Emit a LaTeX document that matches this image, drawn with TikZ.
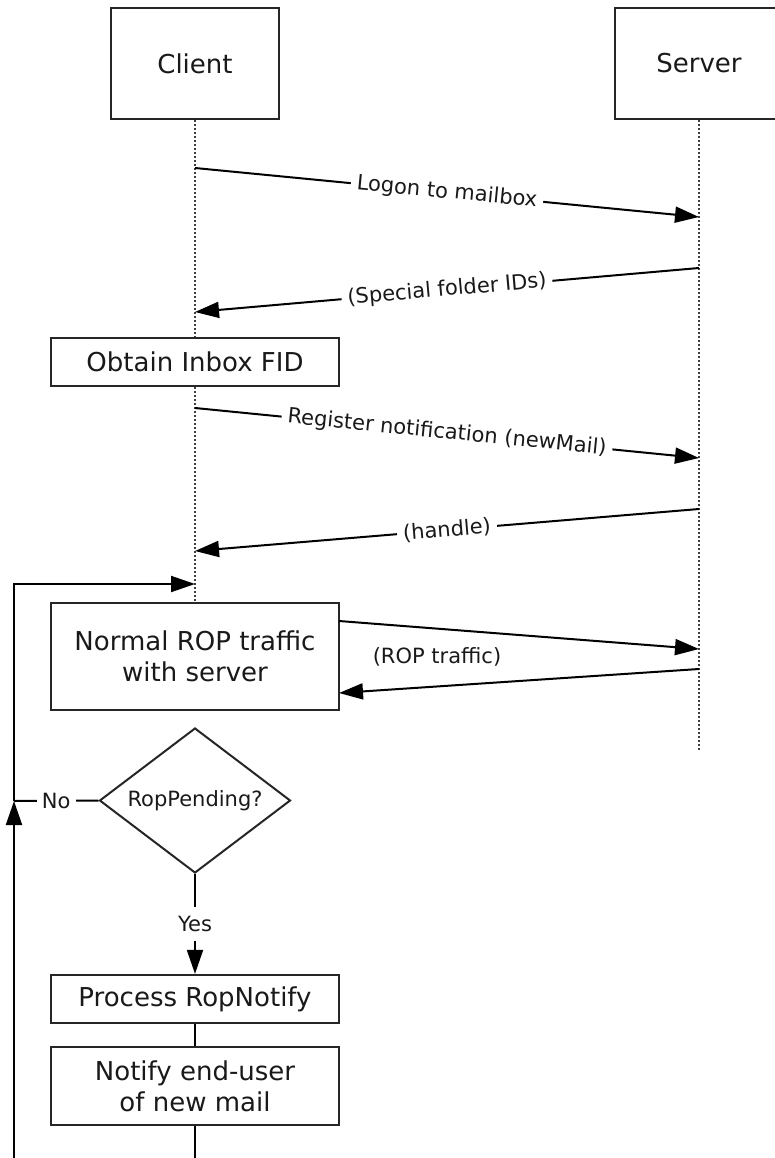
\documentclass[tikz,border=0pt]{standalone}
\usepackage{fontspec}
\setmainfont{DejaVu Sans}
\usetikzlibrary{arrows.meta,shapes.geometric}
\begin{document}
\begin{tikzpicture}[x=1pt,y=-1pt,
  box/.style={draw=black!85, line width=2.2pt, inner sep=0pt, align=center, text=black!90, font=\fontsize{26}{31}\selectfont},
  lbl/.style={text=black!90, font=\fontsize{21}{25}\selectfont},
  msglbl/.style={lbl, sloped, fill=white, inner xsep=6pt, inner ysep=2pt},
  msg/.style={line width=2pt, -{Triangle[length=24pt,width=16pt]}},
  life/.style={line width=2pt, dash pattern=on 2pt off 2pt, black!75},
  plain/.style={line width=2pt}]
\useasboundingbox (0,0) rectangle (774,1158);

% lifeline heads
\node[box, minimum width=168pt, minimum height=111pt] (client) at (195,63.5) {Client};
\node[box, minimum width=168pt, minimum height=111pt] (server) at (699,63.5) {Server};

% client activity boxes
\node[box, minimum width=288pt, minimum height=48pt] (obtain) at (195,362) {Obtain Inbox FID};
\node[box, minimum width=288pt, minimum height=107pt] (normal) at (195,656.5) {Normal ROP traffic\\with server};
\node[draw=black!85, diamond, aspect=1.317, minimum width=191pt, minimum height=145pt, inner sep=0pt, line width=2pt, lbl] (dia) at (195,800.5) {RopPending?};
\node[box, minimum width=288pt, minimum height=48pt] (proc) at (195,999) {Process RopNotify};
\node[box, minimum width=288pt, minimum height=78pt] (notify) at (195,1086) {Notify end-user\\of new mail};

% lifelines
\coordinate (srvend) at (699,750);
\draw[life] (client.south) -- (obtain.north);
\draw[life] (obtain.south) -- (normal.north);
\draw[life] (server.south) -- (srvend);

% messages
\coordinate (c1) at (195,168); \coordinate (s1) at (699,217);
\draw[msg] (c1) -- node[msglbl] {Logon to mailbox} (s1);
\coordinate (s2) at (699,268); \coordinate (c2) at (195,312);
\draw[msg] (s2) -- node[msglbl] {(Special folder IDs)} (c2);
\coordinate (c3) at (195,408); \coordinate (s3) at (699,458);
\draw[msg] (c3) -- node[msglbl] {Register notification (newMail)} (s3);
\coordinate (s4) at (699,509); \coordinate (c4) at (195,551);
\draw[msg] (s4) -- node[msglbl] {(handle)} (c4);

% ROP traffic
\coordinate (r1) at (339,621); \coordinate (s5) at (699,649);
\coordinate (s6) at (699,669); \coordinate (r2) at (339,693);
\draw[msg] (r1) -- (s5);
\draw[msg] (s6) -- (r2);
\node[lbl] (roplbl) at (437,657) {(ROP traffic)};

% loop
\coordinate (j) at (14,801);
\coordinate (lb) at (14,1158);
\coordinate (lt) at (14,584);
\coordinate (c0) at (195,584);
\draw[msg] (lb) -- (j);
\draw[msg] (j) -- (lt) -- (c0);
\draw[plain] (dia.west) -- node[lbl, fill=white, inner xsep=5pt, inner ysep=2pt] {No} (j);

% flow
\draw[msg] (dia.south) -- node[lbl, fill=white, inner xsep=2pt, inner ysep=9pt] {Yes} (proc.north);
\draw[plain] (proc.south) -- (notify.north);
\coordinate (bot) at (195,1158);
\draw[plain] (notify.south) -- (bot);
\end{tikzpicture}
\end{document}
